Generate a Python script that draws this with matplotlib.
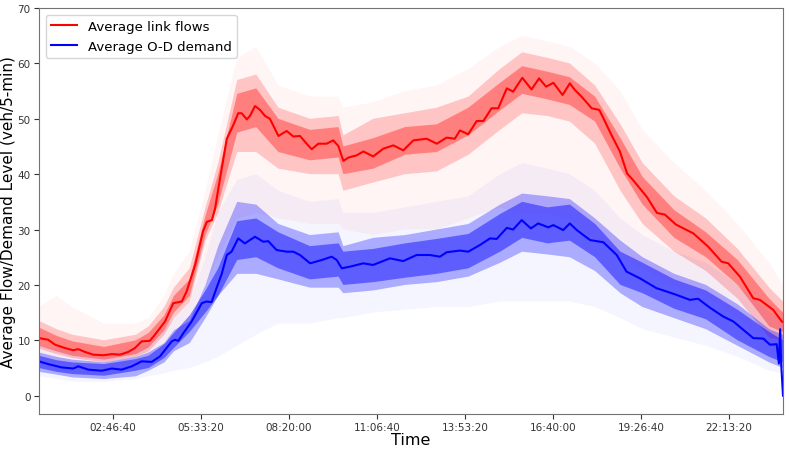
import matplotlib
matplotlib.use("Agg")
import matplotlib.pyplot as plt
from matplotlib.ticker import FuncFormatter, MultipleLocator

# knots of the average curves (hours of day, veh/5-min)
flow_hours = [0.44, 0.73, 0.95, 1.26, 1.52, 1.68, 1.89, 2.15, 2.47, 2.74, 3.00, 3.26, 3.47, 3.68,
              3.94, 4.10, 4.42, 4.68, 4.95, 5.10, 5.37, 5.62, 5.74, 5.90, 6.00, 6.15, 6.37, 6.57,
              6.73, 6.84, 7.00, 7.10, 7.26, 7.42, 7.58, 7.73, 8.00, 8.26, 8.47, 8.68, 8.89, 9.05,
              9.26, 9.52, 9.73, 9.89, 10.05, 10.21, 10.47, 10.68, 10.99, 11.31, 11.63, 11.94,
              12.26, 12.68, 13.00, 13.31, 13.57, 13.73, 13.99, 14.26, 14.47, 14.73, 14.94, 15.21,
              15.41, 15.70, 15.99, 16.23, 16.45, 16.68, 16.97, 17.20, 17.36, 17.57, 17.89, 18.13,
              18.26, 18.52, 18.78, 19.01, 19.20, 19.63, 19.95, 20.20, 20.55, 21.10, 21.57, 21.99,
              22.20, 22.57, 22.99, 23.20, 23.62, 23.89, 23.93]
flow_avg = [10.4, 10.1, 9.2, 8.6, 8.2, 8.4, 7.9, 7.4, 7.3, 7.5, 7.4, 7.9, 8.6, 9.8,
            9.9, 11.0, 13.4, 16.7, 17.0, 18.8, 23.6, 29.7, 31.4, 31.7, 33.8, 39.0, 46.4, 48.8,
            51.0, 51.0, 49.9, 50.5, 52.3, 51.6, 50.5, 50.0, 46.9, 47.8, 46.8, 46.9, 45.5, 44.5,
            45.5, 45.5, 46.1, 45.1, 42.4, 43.0, 43.4, 44.1, 43.2, 44.6, 45.2, 44.3,
            46.1, 46.4, 45.5, 46.6, 46.4, 47.9, 47.2, 49.6, 49.6, 51.9, 51.9, 55.5,
            54.9, 57.4, 55.3, 57.3, 55.8, 56.5, 54.3, 56.4, 55.2, 54.0, 51.9, 51.6,
            50.1, 47.0, 44.1, 40.1, 38.9, 35.9, 33.0, 32.7, 30.9, 29.3, 26.9, 24.2,
            23.9, 21.5, 17.6, 17.3, 15.5, 13.4, 13.3]

demand_hours = [0.44, 0.73, 1.16, 1.52, 1.68, 2.00, 2.42, 2.74, 3.05, 3.37, 3.68, 4.00, 4.26,
                4.63, 4.73, 4.84, 5.00, 5.26, 5.58, 5.73, 5.89, 6.05, 6.21, 6.37, 6.52, 6.73,
                6.94, 7.26, 7.52, 7.68, 7.94, 8.26, 8.47, 8.68, 9.00, 9.37, 9.68, 9.84, 10.00,
                10.26, 10.68, 10.99, 11.52, 11.94, 12.36, 12.78, 13.10, 13.31, 13.73, 13.99,
                14.36, 14.68, 14.89, 15.21, 15.41, 15.68, 15.97, 16.20, 16.52, 16.68, 16.99,
                17.20, 17.42, 17.84, 18.26, 18.68, 18.99, 19.41, 19.94, 20.26, 20.57, 20.99,
                21.25, 21.62, 22.04, 22.36, 22.99, 23.31, 23.52, 23.73, 23.80, 23.84, 23.87, 23.93]
demand_avg = [6.2, 5.7, 5.1, 4.9, 5.3, 4.7, 4.5, 4.9, 4.7, 5.3, 6.2, 6.1, 7.1,
              9.8, 10.1, 9.9, 11.3, 13.4, 16.7, 17.0, 16.9, 19.5, 22.0, 25.4, 26.0, 28.4,
              27.5, 28.7, 27.8, 27.9, 26.3, 26.0, 26.0, 25.4, 23.9, 24.5, 25.1, 24.5, 23.0,
              23.3, 23.9, 23.6, 24.8, 24.3, 25.4, 25.4, 25.1, 25.9, 26.2, 26.0,
              27.2, 28.4, 28.3, 30.3, 30.0, 31.7, 30.2, 31.1, 30.4, 30.8, 29.9,
              31.1, 29.9, 28.1, 27.7, 25.4, 22.4, 21.2, 19.4, 18.8, 18.2, 17.3,
              17.5, 15.9, 14.3, 13.4, 10.4, 10.3, 9.2, 9.3, 5.8, 12.0, 6.0, 0.0]

# envelopes of the run-by-run curves: faint outer spread, main core, dense centre
band_hours = [0.44, 1.0, 1.5, 2.5, 3.5, 3.9, 4.4, 4.7, 5.2, 5.7, 6.1, 6.7, 7.3, 8.0, 9.0, 9.9,
              10.05, 11.0, 12.0, 13.0, 14.0, 15.0, 15.7, 16.5, 17.2, 18.0, 18.8, 19.5, 20.5,
              21.5, 22.5, 23.5, 23.93]
flow_out_hi = [16, 18, 16, 13, 13, 14, 18, 22, 26, 37, 47, 61, 63, 56, 54, 54,
               52, 53, 55, 56, 59, 63, 65, 64, 63, 60, 55, 48, 42, 37, 31, 24, 20]
flow_out_lo = [7, 6, 5.5, 5, 6, 7, 9, 11, 13, 20, 25, 32, 33, 32, 31, 31,
               30, 29, 30, 30, 32, 34, 33, 33, 32, 28, 25, 23, 20, 18, 14, 9, 8]
flow_core_hi = [13.5, 12, 11, 10, 11, 12.5, 16, 19.5, 23, 34, 42, 57, 58, 52, 50, 50.5,
                47, 50, 51, 52, 54, 59, 62, 61, 60, 56, 49, 42, 36, 32, 26.5, 19.5, 17]
flow_core_lo = [8.5, 7.5, 6.8, 6, 7, 8, 11, 14, 17, 28, 33, 44, 44, 41, 40, 40,
                37, 38.5, 40, 40.5, 43.5, 48, 51, 50.5, 49.5, 45.5, 37, 31, 26, 22.5, 17.5, 10.5, 10]
flow_dense_hi = [12.3, 10.8, 9.8, 8.8, 10, 11.3, 14.5, 18, 21, 32.5, 40, 54.5, 55.5, 50, 48, 48.5,
                 45, 46.5, 48.5, 49, 52, 56.5, 59.5, 58.5, 57.5, 54, 46.5, 39.5, 33.5, 29.5, 24.5, 17.5, 15]
flow_dense_lo = [9, 8, 7.2, 6.5, 7.5, 8.7, 11.8, 15, 18, 29, 34.5, 47.5, 48.5, 44, 42.5, 43,
                 40, 41, 43.5, 44, 47, 51.5, 54.5, 53.5, 52.5, 49.5, 41, 34.5, 28.5, 25, 20, 12.5, 11.5]
demand_out_hi = [9, 8.5, 8, 7.5, 8.5, 9.5, 12, 14, 17, 25, 33, 39, 40, 37, 35, 35.5,
                 33, 33, 34, 35, 36, 40, 42, 41, 40, 37, 32, 29, 26, 24, 20, 15, 14]
demand_out_lo = [3.5, 3, 2.5, 2.5, 3, 3.5, 4, 4.5, 5, 6, 7, 9, 11, 13, 13, 14,
                 14, 15, 15.5, 16, 16, 17, 17, 17, 17, 16, 14, 12, 10.5, 9, 7, 4.5, 4]
demand_core_hi = [7.8, 7, 6.5, 6, 7, 7.8, 9.5, 11.8, 13.5, 20, 27, 35, 34.5, 31, 29, 29.5,
                  27, 28.5, 29, 30, 31, 34.5, 36.5, 36, 35.5, 32, 28, 25, 22, 20, 16.5, 12, 11]
demand_core_lo = [4.3, 3.8, 3.3, 3, 3.5, 4.5, 6, 8, 9.5, 14, 18, 22, 22, 21, 19.5, 19.5,
                  18.5, 19, 20, 20.5, 21.5, 24, 26, 25.5, 25, 22.5, 18.5, 16, 14, 12, 9, 6, 5]
demand_dense_hi = [7.2, 6.4, 6, 5.7, 6.6, 7.2, 9.3, 11.3, 14.5, 19, 23, 31.5, 32, 29.5, 27, 27.5,
                   26, 26.5, 27.5, 28.3, 29.2, 32.8, 35, 34, 34.5, 31, 26, 24, 21, 19, 15.5, 11.5, 10]
demand_dense_lo = [5, 4.3, 3.9, 3.6, 4.5, 5, 6.8, 8.6, 11.5, 15, 18, 24.5, 25, 23, 21, 21.5,
                   20, 20.5, 21.3, 22, 23, 26, 28.5, 27.5, 28, 25, 20, 18.5, 15.7, 13.8, 10, 7, 6]


def secs(hours):
    return [h * 3600 for h in hours]


def band(ax, hi, lo, color, alpha):
    t = secs(band_hours)
    ax.fill(t + t[::-1], hi + lo[::-1], color=color, alpha=alpha, lw=0)


def hms(x, pos):
    x = int(round(x))
    return "%02d:%02d:%02d" % (x // 3600, (x % 3600) // 60, x % 60)


fig = plt.figure(figsize=(7.89, 4.52), dpi=100)
ax = fig.add_axes([0.0494, 0.082, 0.9430, 0.898])

band(ax, flow_out_hi, flow_out_lo, "red", 0.04)
band(ax, flow_core_hi, flow_core_lo, "red", 0.20)
band(ax, flow_dense_hi, flow_dense_lo, "red", 0.35)
band(ax, demand_out_hi, demand_out_lo, "blue", 0.04)
band(ax, demand_core_hi, demand_core_lo, "blue", 0.30)
band(ax, demand_dense_hi, demand_dense_lo, "blue", 0.45)

ax.plot(secs(flow_hours), flow_avg, color="red", lw=1.5, label="Average link flows")
ax.plot(secs(demand_hours), demand_avg, color="blue", lw=1.5, label="Average O-D demand")

ax.set_xlim(0.44 * 3600, 23.93 * 3600)
ax.set_ylim(-3.3, 70)
ax.xaxis.set_major_locator(MultipleLocator(10000))
ax.xaxis.set_major_formatter(FuncFormatter(hms))
ax.yaxis.set_major_locator(MultipleLocator(10))
ax.tick_params(labelsize=7.5, colors="0.2", pad=2.5)
for s in ax.spines.values():
    s.set_color("0.45")

ax.set_xlabel("Time", fontsize=11.5, labelpad=0)
ax.set_ylabel("Average Flow/Demand Level (veh/5-min)", fontsize=11)
ax.yaxis.set_label_coords(-0.031, 0.5)
ax.legend(loc="upper left", fontsize=9.5, handlelength=2.0)

plt.savefig("out.png", dpi=100)
